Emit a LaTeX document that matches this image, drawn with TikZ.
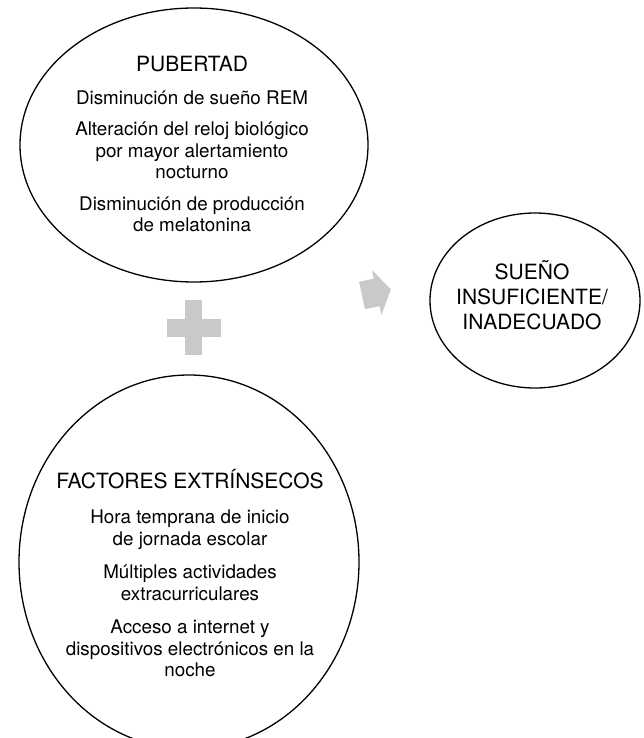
\documentclass[tikz,border=0pt]{standalone}
\usepackage{fontspec}
\setmainfont{TeX Gyre Heros}
\usetikzlibrary{shapes.geometric}

\begin{document}
\begin{tikzpicture}[x=1bp,y=-1bp,
	bubble/.style={draw,ellipse,line width=1.3bp,inner sep=0pt},
	txt/.style={align=center,inner sep=0pt,font=\fontsize{18.8bp}{21.5bp}\selectfont},
	big/.style={align=center,inner sep=0pt,font=\fontsize{21bp}{25bp}\selectfont},
	blockfill/.style={fill=black!21}]

	\useasboundingbox (0,0) rectangle (644,738);

	\node[bubble,minimum width=348bp,minimum height=274bp] (pubertad) at (194,145) {};
	\node[bubble,minimum width=340bp,minimum height=374bp] (factores) at (189,562) {};
	\node[bubble,minimum width=210bp,minimum height=175bp] (sueno) at (535,300.5) {};

	\node[txt] (pubertadtxt) at (192,144) {{\fontsize{21bp}{21.5bp}\selectfont PUBERTAD}\\[11.5bp]
		Disminución de sueño REM\\[10bp]
		Alteración del reloj biológico\\
		por mayor alertamiento\\
		nocturno\\[10bp]
		Disminución de producción\\
		de melatonina};

	\node[txt] (factorestxt) at (190,573) {{\fontsize{21bp}{21.5bp}\selectfont FACTORES EXTRÍNSECOS}\\[14bp]
		Hora temprana de inicio\\
		de jornada escolar\\[12bp]
		Múltiples actividades\\
		extracurriculares\\[12bp]
		Acceso a internet y\\
		dispositivos electrónicos en la\\
		noche};

	\node[big] (suenotxt) at (532,295) {SUEÑO\\ INSUFICIENTE/\\ INADECUADO};

	\fill[blockfill] (185,300) rectangle (202,355);
	\fill[blockfill] (167,319) rectangle (221,337);

	\fill[blockfill,shift={(362,295.5)},rotate=12] (0,-14) -- (15,-14) -- (15,-23) -- (29.5,0)
		-- (15,23) -- (15,14) -- (0,14) -- cycle;

\end{tikzpicture}
\end{document}
